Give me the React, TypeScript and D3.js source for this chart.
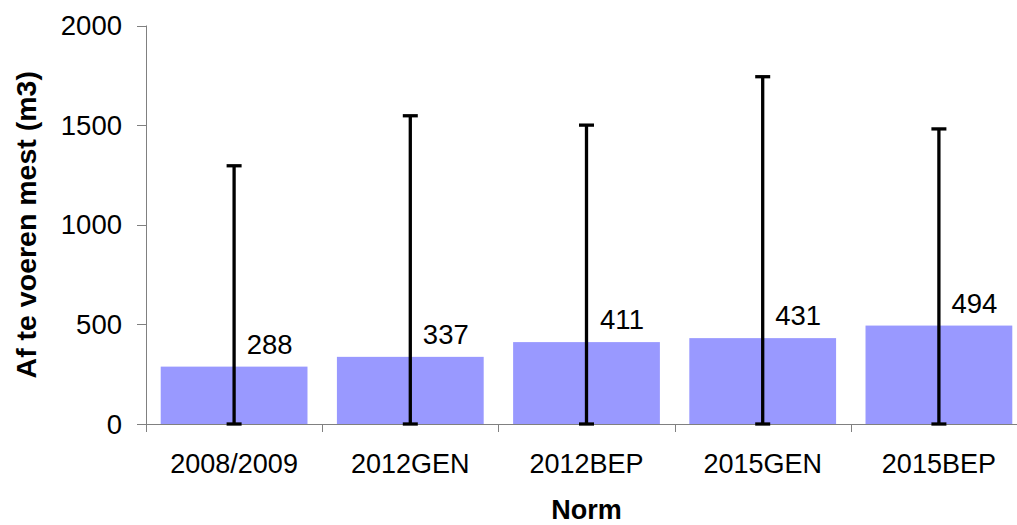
import React from "react";
import * as d3 from "d3";

const categories = ["2008/2009", "2012GEN", "2012BEP", "2015GEN", "2015BEP"];
const values = [288, 337, 411, 431, 494];
const errorTops = [1296, 1547, 1500, 1743, 1481];
const yTicks = [0, 500, 1000, 1500, 2000];

const W = 1017;
const H = 525;
const FONT = "'Liberation Sans', Arial, sans-serif";

export default function App() {
  const x = d3.scaleBand<string>().domain(categories).range([146, 1027]).paddingInner(0.167).paddingOuter(0.0835);
  const y = d3.scaleLinear().domain([0, 2000]).range([424, 25.5]);
  const step = x.step();
  const x0 = 146;
  const axisColor = "#808080";

  return (
    <svg width={W} height={H} style={{ position: "absolute", left: 0, top: 0, background: "#fff" }}>
      {/* bars */}
      {categories.map((c, i) => (
        <rect key={c} x={x(c)!} y={y(values[i])} width={x.bandwidth()} height={y(0) - y(values[i])} fill="#9999FF" />
      ))}
      {/* y axis */}
      <line x1={x0 + 0.5} x2={x0 + 0.5} y1={y(2000)} y2={y(0)} stroke={axisColor} strokeWidth={1} />
      {yTicks.map((t) => (
        <g key={t}>
          <line x1={137} x2={x0} y1={Math.round(y(t)) + 0.5} y2={Math.round(y(t)) + 0.5} stroke={axisColor} />
          <text x={122} y={y(t)} dy="0.35em" textAnchor="end" fontFamily={FONT} fontSize={27.5} fill="#000">
            {t}
          </text>
        </g>
      ))}
      {/* x axis */}
      <line x1={x0} x2={1027} y1={Math.round(y(0)) + 0.5} y2={Math.round(y(0)) + 0.5} stroke={axisColor} />
      {d3.range(categories.length + 1).map((k) => (
        <line key={k} x1={Math.round(x0 + k * step) + 0.5} x2={Math.round(x0 + k * step) + 0.5} y1={y(0)} y2={y(0) + 8} stroke={axisColor} />
      ))}
      {categories.map((c) => (
        <text key={c} x={x(c)! + x.bandwidth() / 2} y={473} textAnchor="middle" fontFamily={FONT} fontSize={27} fill="#000">
          {c}
        </text>
      ))}
      {/* error bars */}
      {categories.map((c, i) => {
        const cx = x(c)! + x.bandwidth() / 2;
        return (
          <g key={c} stroke="#000" strokeWidth={3.3}>
            <line x1={cx} x2={cx} y1={y(0)} y2={y(errorTops[i])} />
            <line x1={cx - 7.5} x2={cx + 7.5} y1={y(errorTops[i])} y2={y(errorTops[i])} />
            <line x1={cx - 7.5} x2={cx + 7.5} y1={y(0)} y2={y(0)} />
          </g>
        );
      })}
      {/* value labels */}
      {categories.map((c, i) => (
        <text key={c} x={x(c)! + x.bandwidth() / 2 + 35.5} y={y(values[i]) - 13} textAnchor="middle" fontFamily={FONT} fontSize={27.5} fill="#000">
          {values[i]}
        </text>
      ))}
      {/* axis titles */}
      <text x={586.5} y={519} textAnchor="middle" fontFamily={FONT} fontSize={27} fontWeight="bold" fill="#000">
        Norm
      </text>
      <text transform={`translate(36,${(y(0) + y(2000)) / 2}) rotate(-90)`} textAnchor="middle" fontFamily={FONT} fontSize={28.5} fontWeight="bold" fill="#000">
        Af te voeren mest (m3)
      </text>
    </svg>
  );
}
